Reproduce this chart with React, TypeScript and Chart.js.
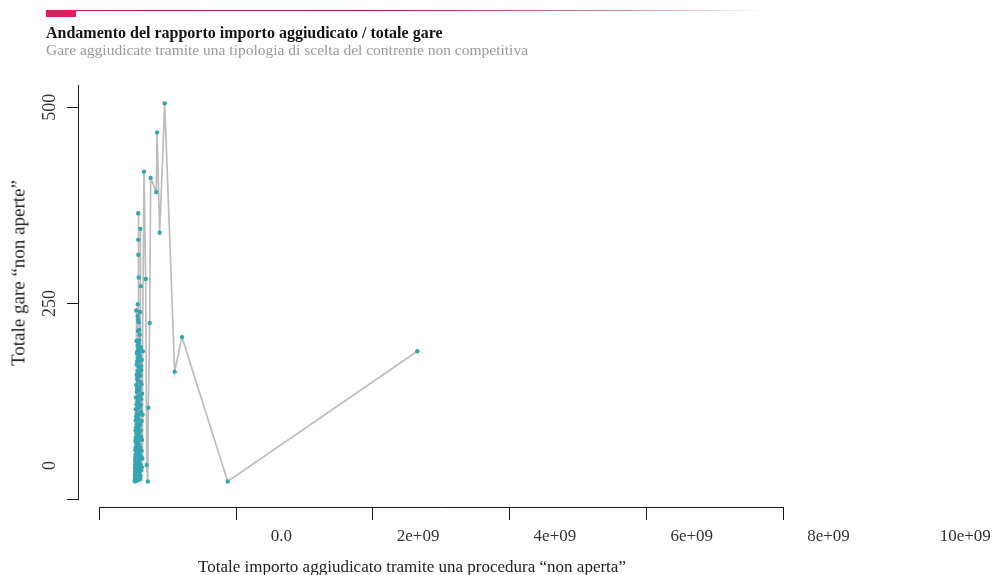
import React, { useEffect, useRef } from "react";
import { Chart, registerables } from "chart.js";

Chart.register(...registerables);

const TITLE = "Andamento del rapporto importo aggiudicato / totale gare";
const SUBTITLE = "Gare aggiudicate tramite una tipologia di scelta del contrente non competitiva";
const X_TITLE = "Totale importo aggiudicato tramite una procedura \u201cnon aperta\u201d";
const Y_TITLE = "Totale gare \u201cnon aperte\u201d";

const X_TICKS = [0, 2e9, 4e9, 6e9, 8e9, 10e9];
const X_TICK_LABELS = ["0.0", "2e+09", "4e+09", "6e+09", "8e+09", "10e+09"];
const Y_TICKS = [0, 250, 500];
const Y_TICK_LABELS = ["0", "250", "500"];

// total awarded amount, millions of euro (sorted ascending)
const importoMln = [
  520.0, 520.6, 521.1, 521.7, 522.2, 522.8, 523.3, 523.9, 524.4, 525.0,
  525.6, 526.1, 526.7, 527.2, 527.8, 528.3, 528.9, 529.4, 530.0, 530.6,
  531.1, 531.7, 532.2, 532.8, 533.3, 533.9, 534.4, 535.0, 535.6, 536.1,
  536.7, 537.2, 537.8, 538.3, 538.9, 539.4, 540.0, 540.6, 541.1, 541.7,
  542.2, 542.8, 543.3, 543.9, 544.4, 545.0,
  545.6, 546.1, 546.7, 547.2, 547.8, 548.3, 548.9, 549.4, 550.0, 550.6,
  551.1, 551.7, 552.2, 552.8, 553.3, 553.9, 554.4, 555.0, 555.6, 556.1,
  556.7, 557.2, 557.8, 558.3, 558.9, 559.4, 560.0, 560.6, 561.1, 561.7,
  562.2, 562.8, 563.3, 563.9, 564.4, 565.0, 565.6, 566.1, 566.7, 567.2,
  567.8, 568.3, 568.9, 569.4, 570.0, 570.6, 571.1, 571.7, 572.2, 572.8,
  573.3, 573.9, 574.4, 575.0, 575.6, 576.1, 576.7, 577.2, 577.8, 578.3,
  578.9, 579.4, 580.0, 580.6, 581.1, 581.7, 582.2, 582.8, 583.3, 583.9,
  584.4, 585.0,
  586.1, 587.2, 587.8, 588.3, 589.4, 590.0, 590.6, 591.1, 591.7, 592.2,
  592.8, 593.3, 593.9, 594.4, 595.0, 595.6, 596.1, 596.7, 597.2, 597.8,
  598.3, 598.9, 599.4, 600.0, 601.1, 601.7, 602.8, 603.3, 604.4, 605.0,
  606.1, 606.7, 607.8, 608.3, 609.4, 610.0, 611.1, 612.2, 613.3, 614.4,
  616.1, 617.8, 619.4, 621.1, 622.8, 624.0, 626.7, 629.4, 633.0, 635.0,
  654, 678, 693, 708, 716, 737, 751, 833, 844, 883,
  956, 1102, 1209, 1877, 4649,
];

// number of awarded tenders, same order
const gare = [
  24, 31, 26, 40, 23, 35, 52, 27, 44, 30,
  63, 24, 49, 36, 75, 28, 57, 41, 88, 25,
  66, 33, 101, 47, 24, 79, 38, 115, 55, 29,
  92, 43, 130, 62, 25, 106, 34, 241, 71, 146,
  27, 202, 50, 121, 84, 37,
  172, 58, 159, 24, 137, 96, 45, 186, 68, 154,
  31, 110, 188, 53, 141, 82, 26, 176, 125, 40,
  202, 99, 60, 164, 142, 29, 196, 88, 234, 249,
  47, 116, 180, 72, 215, 36, 131, 229, 55, 103,
  151, 25, 365, 331, 78, 312, 42, 192, 119, 64,
  170, 93, 33, 199, 139, 283, 51, 108, 27, 226,
  170, 70, 185, 126, 39, 157, 84, 203, 143, 48,
  118, 216,
  161, 31, 96, 121, 58, 140, 210, 35, 76, 168,
  183, 52, 44, 118, 239, 28, 95, 176, 189, 63,
  26, 133, 345, 45, 66, 158, 150, 30, 272, 88,
  121, 194, 40, 112, 170, 55, 80, 165, 128, 37,
  147, 62, 100, 178, 41, 76, 135, 52, 108, 189,
  418, 281, 44, 23, 117, 225, 410, 392, 468, 340,
  505, 163, 207, 23, 189,
];

const FONT = '"Liberation Serif", "Times New Roman", serif';
const AXIS_COLOR = "#1a1a1a";
const LINE_COLOR = "#bdbdbd";
const POINT_COLOR = "#37a5b0";

// where the detached axes sit, in data units
const X_AXIS_AT_Y = -10.8;
const Y_AXIS_AT_X = -0.297e9;

const yLabelPlugin = {
  id: "yTickLabels",
  afterDraw(chart: any) {
    const ys = chart.scales.y;
    const xs = chart.scales.x;
    const ctx = chart.ctx;
    const axisX = xs.getPixelForValue(Y_AXIS_AT_X);
    ctx.save();
    ctx.font = `18px ${FONT}`;
    ctx.fillStyle = "#333";
    ctx.textAlign = "center";
    ctx.textBaseline = "middle";
    ys.ticks.forEach((t: any, i: number) => {
      // the lowest label is drawn lifted above its tick, as in the source
      const lift = i === 0 ? -34 : 0;
      const y = ys.getPixelForValue(t.value) + lift;
      ctx.save();
      ctx.translate(axisX - 29, y);
      ctx.rotate(-Math.PI / 2);
      ctx.fillText(Y_TICK_LABELS[i], 0, 0);
      ctx.restore();
    });
    ctx.restore();
  },
};

export default function App() {
  const ref = useRef<HTMLCanvasElement | null>(null);

  useEffect(() => {
    if (!ref.current) return;
    const points = importoMln.map((v, i) => ({ x: v * 1e6, y: gare[i] }));
    const chart = new Chart(ref.current, {
      type: "scatter",
      data: {
        datasets: [
          {
            data: points,
            showLine: true,
            borderColor: LINE_COLOR,
            borderWidth: 1.7,
            pointRadius: 2.2,
            pointBorderWidth: 0,
            pointBackgroundColor: POINT_COLOR,
            pointBorderColor: POINT_COLOR,
          },
        ],
      },
      options: {
        animation: false,
        responsive: false,
        devicePixelRatio: 1,
        layout: { padding: { left: 99.3, right: 215.7, top: 85, bottom: 75.5 } },
        plugins: { legend: { display: false }, tooltip: { enabled: false }, title: { display: false } },
        scales: {
          x: {
            type: "linear",
            min: 0,
            max: 1e10,
            position: { y: X_AXIS_AT_Y } as any,
            afterBuildTicks: (s: any) => {
              s.ticks = X_TICKS.map((v) => ({ value: v }));
            },
            ticks: {
              autoSkip: false,
              minRotation: 0,
              maxRotation: 0,
              labelOffset: 182,
              padding: 6,
              color: "#333",
              font: { family: FONT, size: 17 },
              callback: (_v: any, i: number) => X_TICK_LABELS[i],
            },
            grid: {
              drawOnChartArea: false,
              drawTicks: true,
              tickLength: 12,
              tickColor: AXIS_COLOR,
              tickWidth: 1,
            },
            border: { display: true, color: AXIS_COLOR, width: 1 },
          },
          y: {
            type: "linear",
            min: 0,
            max: 528.4,
            position: { x: Y_AXIS_AT_X } as any,
            afterBuildTicks: (s: any) => {
              s.ticks = Y_TICKS.map((v) => ({ value: v }));
            },
            ticks: { display: false },
            grid: {
              drawOnChartArea: false,
              drawTicks: true,
              tickLength: 11,
              tickColor: AXIS_COLOR,
              tickWidth: 1,
            },
            border: { display: true, color: AXIS_COLOR, width: 1 },
          },
        },
      },
      plugins: [yLabelPlugin],
    });
    return () => chart.destroy();
  }, []);

  return (
    <div style={{ position: "absolute", left: 0, top: 0, width: 999, height: 575, background: "#fff", fontFamily: FONT }}>
      <canvas ref={ref} width={999} height={575} style={{ position: "absolute", left: 0, top: 0 }} />
      <div style={{ position: "absolute", left: 46, top: 10, width: 30, height: 7, background: "#d81f5c" }} />
      <div
        style={{
          position: "absolute",
          left: 46,
          top: 10,
          width: 720,
          height: 1.2,
          background: "linear-gradient(to right, #d81f5c 0%, #a3204f 45%, rgba(140,30,70,0.5) 80%, rgba(255,255,255,0) 100%)",
        }}
      />
      <div style={{ position: "absolute", left: 46, top: 25, fontSize: 16, lineHeight: "16px", fontWeight: 700, color: "#141414", whiteSpace: "nowrap" }}>
        {TITLE}
      </div>
      <div style={{ position: "absolute", left: 46, top: 42, fontSize: 15.5, lineHeight: "15.5px", color: "#9a9a9a", whiteSpace: "nowrap" }}>
        {SUBTITLE}
      </div>
      <div
        style={{
          position: "absolute",
          left: 412,
          top: 566,
          transform: "translate(-50%, -50%)",
          fontSize: 17,
          lineHeight: "17px",
          color: "#222",
          whiteSpace: "nowrap",
        }}
      >
        {X_TITLE}
      </div>
      <div
        style={{
          position: "absolute",
          left: 18,
          top: 273,
          transform: "translate(-50%, -50%) rotate(-90deg)",
          fontSize: 19,
          lineHeight: "19px",
          color: "#222",
          whiteSpace: "nowrap",
        }}
      >
        {Y_TITLE}
      </div>
    </div>
  );
}
